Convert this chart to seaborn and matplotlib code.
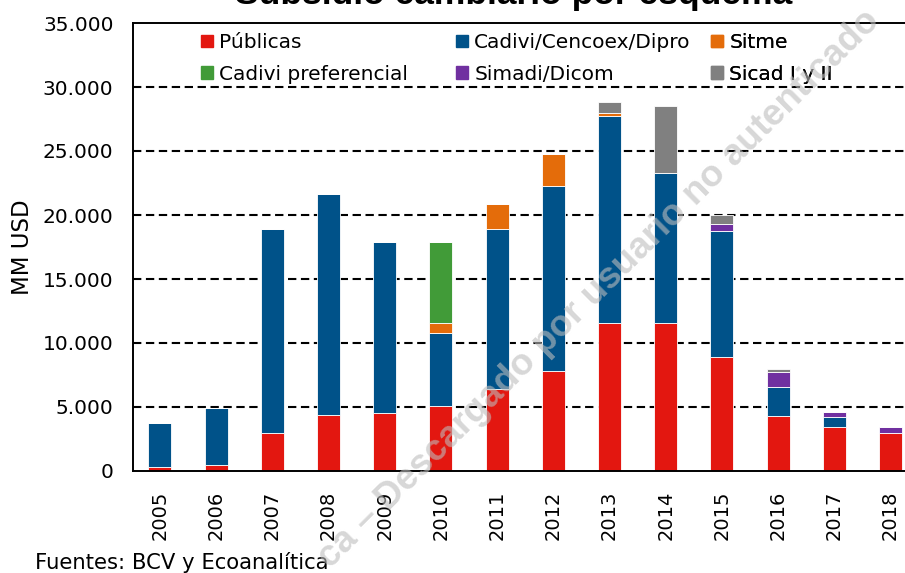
import numpy as np
import pandas as pd
import matplotlib
matplotlib.use('Agg')
import matplotlib.pyplot as plt
import seaborn as sns
from matplotlib.ticker import FuncFormatter

years = ['2005', '2006', '2007', '2008', '2009', '2010', '2011',
         '2012', '2013', '2014', '2015', '2016', '2017', '2018']
publicas = [300, 445, 2970, 4350, 4510, 5080, 6400, 7810, 11560, 11560, 8870, 4320, 3410, 2970]
cadivi = [3430, 4475, 15930, 17280, 13350, 5720, 12520, 14420, 16170, 11710, 9900, 2270, 780, 0]
sitme = [0, 0, 0, 0, 0, 760, 1960, 2550, 230, 0, 0, 0, 0, 0]
cadivi_pref = [0, 0, 0, 0, 0, 6300, 0, 0, 0, 0, 0, 0, 0, 0]
simadi = [0, 0, 0, 0, 0, 0, 0, 0, 0, 0, 540, 1170, 440, 470]
sicad = [0, 0, 0, 0, 0, 0, 0, 0, 880, 5240, 660, 180, 0, 0]

series = ['Públicas', 'Cadivi/Cencoex/Dipro', 'Sitme', 'Cadivi preferencial', 'Simadi/Dicom', 'Sicad I y II']
values = [publicas, cadivi, sitme, cadivi_pref, simadi, sicad]
colors = ['#E31710', '#005289', '#E46C0A', '#419B38', '#7030A0', '#808080']

sns.set_style('white')
plt.rcParams['font.family'] = ['DejaVu Sans']
plt.rcParams['text.color'] = 'black'
plt.rcParams['axes.labelcolor'] = 'black'

fig = plt.figure(figsize=(9.05, 5.73), dpi=100)
ax = fig.add_axes([133 / 905, 1 - 471 / 573, 1 - 133 / 905, (471 - 23) / 573])

# stacked bars, one seaborn call per layer
bottom = np.zeros(len(years))
handles = {}
for name, vals, col in zip(series, values, colors):
    df = pd.DataFrame({'year': years, 'val': vals})
    sns.barplot(data=df, x='year', y='val', ax=ax, color=col, width=0.41,
                bottom=bottom, edgecolor='white', linewidth=0.6, saturation=1)
    bottom = bottom + np.array(vals)
    handles[name] = plt.Rectangle((0, 0), 1, 1, color=col)

ax.set_xlim(-0.48, 13.26)
ax.set_ylim(0, 35000)
ax.set_yticks(np.arange(0, 35001, 5000))
ax.yaxis.set_major_formatter(FuncFormatter(lambda v, p: f'{int(v):,}'.replace(',', '.')))
for yv in range(5000, 35000, 5000):
    ax.axhline(yv, color='black', linestyle=(0, (4, 2.2)), linewidth=1.5, zorder=0)

ax.tick_params(axis='both', length=0, labelsize=14.5, colors='black')
ax.tick_params(axis='x', rotation=90, pad=14, labelsize=14)
ax.tick_params(axis='y', pad=14)
ax.set_xlabel('')
ax.set_ylabel('MM USD', fontsize=16.5, color='black')
ax.yaxis.set_label_coords(-0.128, 0.5)
for s in ['left', 'bottom', 'top']:
    ax.spines[s].set_color('black')
    ax.spines[s].set_linewidth(1.4)
ax.spines['right'].set_visible(False)

# legend: three fixed-width columns like the original
columns = [['Públicas', 'Cadivi preferencial'],
           ['Cadivi/Cencoex/Dipro', 'Simadi/Dicom'],
           ['Sitme', 'Sicad I y II']]
col_x = [198, 453, 708]
for names, xp in zip(columns, col_x):
    leg = ax.legend([handles[k] for k in names], names, loc='upper left',
                    bbox_to_anchor=((xp - 133) / 772, 1 - 7 / 448), frameon=False, fontsize=14.5,
                    handlelength=0.6, handleheight=0.6, handletextpad=0.3,
                    labelspacing=0.62, borderaxespad=0.15, borderpad=0.0)
    ax.add_artist(leg)

fig.text(0.568, 1 - 4 / 573, 'Subsidio cambiario por esquema', ha='center', va='baseline',
         fontsize=25.5, fontweight='bold', family='Liberation Sans')
fig.text(35 / 905, 4 / 573, 'Fuentes: BCV y Ecoanalítica', fontsize=15.2, va='baseline')

# diagonal watermark
fig.text(330 / 905, 4 / 573, 'ca – Descargado por usuario no autenticado',
         rotation=44.8, rotation_mode='anchor', ha='left', va='baseline',
         fontsize=26.5, fontweight='bold', color='#bdbdbd', alpha=0.6, zorder=10,
         family='Liberation Sans')

fig.savefig('out.png', dpi=100)
